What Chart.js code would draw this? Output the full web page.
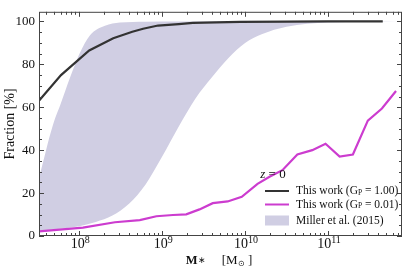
<!DOCTYPE html>
<html lang="en">
<head>
  <meta charset="UTF-8" />
  <title>Fraction vs stellar mass</title>
  <script src="https://cdn.jsdelivr.net/npm/chart.js"></script>
  <style>
    * { margin: 0; padding: 0; box-sizing: border-box; }
    body { background: white; }
    .wrap { position: relative; width: 407px; height: 271px; }
  </style>
</head>
<body>
  <div class="wrap">
    <canvas id="chart"></canvas>
  </div>

  <script>
    // log10 stellar mass and fraction (%)
    const highLogM = [7.514, 7.78, 8.12, 8.41, 8.64, 8.77, 8.95, 9.20, 9.37, 9.65, 9.94, 10.5, 11.0, 11.66];
    const highFrac = [63, 75, 86.5, 92.2, 95.2, 96.6, 98.1, 98.8, 99.3, 99.6, 99.8, 99.9, 100, 100];

    const lowLogM = [7.514, 8.045, 8.43, 8.73, 8.93, 9.13, 9.29, 9.45, 9.61, 9.79, 9.96, 10.15, 10.30, 10.45, 10.63, 10.81, 10.97, 11.14, 11.30, 11.48, 11.65, 11.82];
    const lowFrac = [2.2, 3.9, 6.4, 7.4, 9.2, 9.8, 10.1, 12.4, 15.3, 16.1, 18.3, 24.3, 27.7, 30.7, 38, 40, 43, 37, 38, 53.8, 59.4, 67.6];

    // Miller et al. (2015) band
    const bandTopLogM = [7.514, 7.59, 7.65, 7.71, 7.77, 7.89, 8.0, 8.13, 8.31, 8.49, 8.8, 9.2, 11.89];
    const bandTopFrac = [27, 38.5, 47.4, 55, 61, 74, 84.7, 93.6, 98, 99.5, 99.9, 100, 100];
    const bandLowLogM = [7.514, 7.8, 8.0, 8.2, 8.4, 8.6, 8.8, 9.0, 9.2, 9.4, 9.6, 9.8, 10.0, 10.2, 10.5, 11.0, 11.89];
    const bandLowFrac = [2.5, 3.5, 4.6, 6.5, 9.5, 15, 24, 37, 51, 64, 74, 83, 90, 94, 97.5, 99.5, 100];

    const yTicks = [0, 20, 40, 60, 80, 100];
    const xDecades = [8, 9, 10, 11];

    const BLACK = '#333333';
    const MAGENTA = '#cc3ccf';
    const BAND = '#d0cee3';
    const INK = '#111';
    const SERIF = "'Liberation Serif', 'Times New Roman', serif";

    const pts = (lm, v) => lm.map((m, i) => ({ x: Math.pow(10, m), y: v[i] }));

    // draws runs of [text, font, dy] left to right, centred on cx
    function drawRuns(ctx, runs, cx, y) {
      let w = 0;
      runs.forEach(r => { ctx.font = r[1]; w += ctx.measureText(r[0]).width; });
      let x = cx - w / 2;
      runs.forEach(r => {
        ctx.font = r[1];
        ctx.fillText(r[0], x, y + (r[2] || 0));
        x += ctx.measureText(r[0]).width;
      });
    }

    // frame, inward ticks, x labels, legend
    const framePlugin = {
      id: 'frame',
      afterDraw(chart) {
        const { ctx, chartArea: a, scales } = chart;
        const xs = scales.x, ys = scales.y;
        ctx.save();
        ctx.strokeStyle = '#444';
        ctx.lineWidth = 1;
        ctx.strokeRect(a.left + 0.5, a.top + 0.5, a.right - a.left - 1, a.bottom - a.top - 1);

        ctx.beginPath();
        for (let e = 7; e <= 11; e++) {
          for (let k = 1; k <= 9; k++) {
            const v = k * Math.pow(10, e);
            if (v < xs.min || v > xs.max) continue;
            const px = Math.round(xs.getPixelForValue(v)) + 0.5;
            const len = k === 1 ? 5 : 3;
            ctx.moveTo(px, a.bottom); ctx.lineTo(px, a.bottom - len);
            ctx.moveTo(px, a.top); ctx.lineTo(px, a.top + len);
          }
        }
        for (let v = 0; v <= 100; v += 5) {
          const py = Math.round(ys.getPixelForValue(v)) + 0.5;
          const len = v % 20 === 0 ? 5 : 3;
          ctx.moveTo(a.left, py); ctx.lineTo(a.left + len, py);
          ctx.moveTo(a.right, py); ctx.lineTo(a.right - len, py);
        }
        ctx.stroke();

        ctx.fillStyle = INK;
        ctx.textAlign = 'left';
        ctx.textBaseline = 'alphabetic';

        // x tick labels 10^n
        xDecades.forEach(e => {
          const px = xs.getPixelForValue(Math.pow(10, e));
          drawRuns(ctx, [['10', '14px ' + SERIF], [String(e), '10px ' + SERIF, -5]], px + 1, 247.5);
        });

        // x title  M* [Msun]
        drawRuns(ctx, [
          ['M', 'bold 12.5px ' + SERIF],
          ['∗', '9px ' + SERIF, -1],
          ['     [M', '13px ' + SERIF],
          ['⊙', '8px ' + SERIF, 1.5],
          [' ]', '13px ' + SERIF]
        ], 219, 264);

        // legend
        ctx.textBaseline = 'middle';
        drawRuns(ctx, [['z', 'italic 13px ' + SERIF], [' = 0', '13px ' + SERIF]], 273, 175);

        const rows = [
          { y: 191, kind: 'line', color: BLACK, gp: '1.00' },
          { y: 204.5, kind: 'line', color: MAGENTA, gp: '0.01' },
          { y: 220.5, kind: 'box', color: BAND }
        ];
        rows.forEach(r => {
          if (r.kind === 'line') {
            ctx.strokeStyle = r.color;
            ctx.lineWidth = 2;
            ctx.beginPath();
            ctx.moveTo(265, r.y); ctx.lineTo(289, r.y);
            ctx.stroke();
            let tx = 296;
            ctx.font = '11.5px ' + SERIF;
            ctx.fillText('This work (G', tx, r.y);
            tx += ctx.measureText('This work (G').width;
            ctx.font = '7.5px ' + SERIF;
            ctx.fillText('P', tx, r.y + 2);
            tx += ctx.measureText('P').width;
            ctx.font = '11.5px ' + SERIF;
            ctx.fillText(' = ' + r.gp + ')', tx, r.y);
          } else {
            ctx.fillStyle = r.color;
            ctx.fillRect(265, r.y - 5, 24, 10);
            ctx.fillStyle = INK;
            ctx.font = '11.5px ' + SERIF;
            ctx.fillText('Miller et al. (2015)', 296, r.y);
          }
        });
        ctx.restore();
      }
    };

    new Chart(document.getElementById('chart'), {
      type: 'line',
      data: {
        datasets: [{
          label: 'This work (GP = 1.00)',
          data: pts(highLogM, highFrac),
          borderColor: BLACK,
          borderWidth: 2.2,
          pointRadius: 0,
          fill: false,
          order: 0
        }, {
          label: 'This work (GP = 0.01)',
          data: pts(lowLogM, lowFrac),
          borderColor: MAGENTA,
          borderWidth: 2.2,
          pointRadius: 0,
          fill: false,
          order: 1
        }, {
          label: 'Miller et al. (2015)',
          data: pts(bandTopLogM, bandTopFrac),
          borderWidth: 0,
          borderColor: 'rgba(0,0,0,0)',
          backgroundColor: BAND,
          pointRadius: 0,
          cubicInterpolationMode: 'monotone',
          fill: '+1',
          order: 2
        }, {
          label: 'Miller lower',
          data: pts(bandLowLogM, bandLowFrac),
          borderWidth: 0,
          borderColor: 'rgba(0,0,0,0)',
          pointRadius: 0,
          cubicInterpolationMode: 'monotone',
          fill: false,
          order: 3
        }]
      },
      options: {
        responsive: true,
        maintainAspectRatio: false,
        animation: false,
        layout: { padding: { top: 2, right: 5, left: 0, bottom: 0 } },
        plugins: {
          legend: { display: false },
          tooltip: { enabled: false }
        },
        scales: {
          x: {
            type: 'logarithmic',
            min: 3.27e7,
            max: 7.8e11,
            grid: { display: false, drawTicks: false },
            border: { display: false },
            ticks: { display: false },
            afterFit: s => { s.height = 35; }
          },
          y: {
            min: 0,
            max: 104.5,
            afterBuildTicks: s => { s.ticks = yTicks.map(v => ({ value: v })); },
            grid: { display: false, drawTicks: false },
            border: { display: false },
            ticks: {
              padding: 4,
              color: INK,
              font: { family: SERIF, size: 13 }
            },
            title: {
              display: true,
              text: 'Fraction [%]',
              color: INK,
              font: { family: SERIF, size: 14 },
              padding: { top: 2, bottom: 0 }
            },
            afterFit: s => { s.width = 39; }
          }
        }
      },
      plugins: [framePlugin]
    });
  </script>
</body>
</html>
